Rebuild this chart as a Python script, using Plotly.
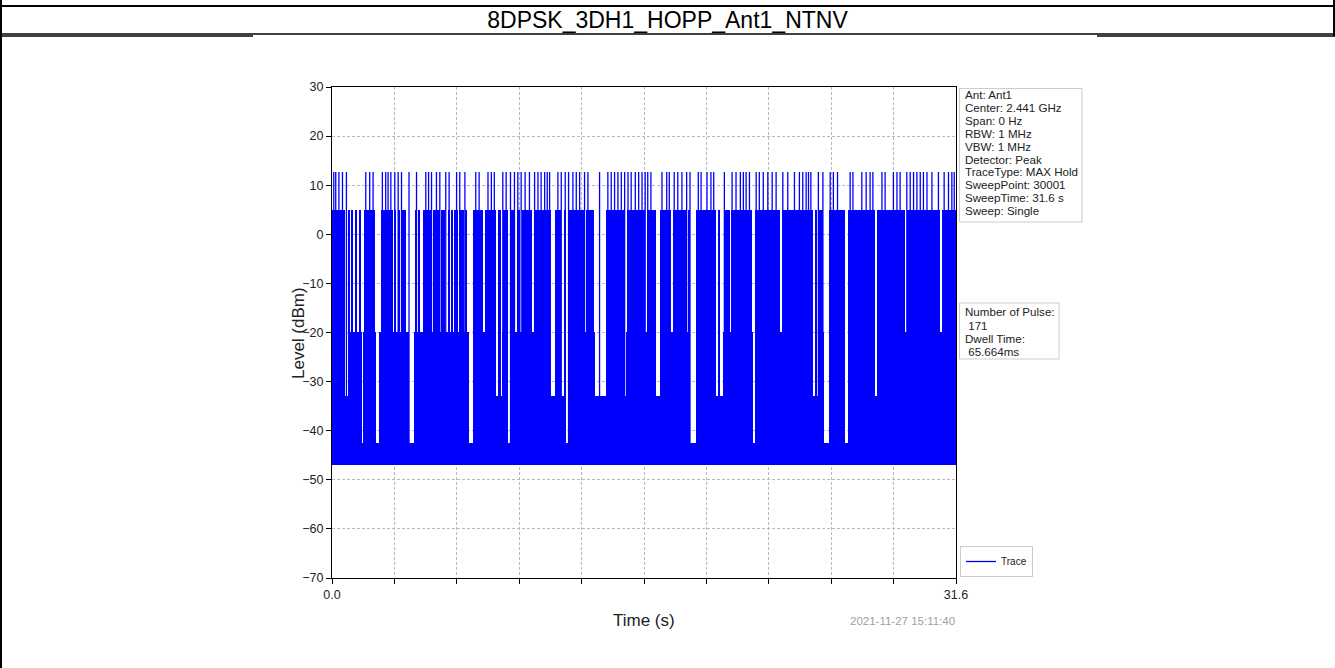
import plotly.graph_objects as go

# ---------------- data ----------------
title_text = "8DPSK_3DH1_HOPP_Ant1_NTNV"
x_range = [0.0, 31.6]
y_range = [-70, 30]
x_tick_vals = [0.0, 3.16, 6.32, 9.48, 12.64, 15.8, 18.96, 22.12, 25.28, 28.44, 31.6]
x_tick_labels = ["0.0", "", "", "", "", "", "", "", "", "", "31.6"]
y_tick_vals = [-70, -60, -50, -40, -30, -20, -10, 0, 10, 20, 30]

noise_floor = -47.0
noise_top = -42.5
low_level = -33.0
mid_level = -19.8
high_level = 5.0
peak_level = 12.7

# times (s) of the pulses reaching the 12.7 dBm peak
peak_times = [0.09, 0.19, 0.35, 0.53, 0.73, 1.71, 1.91, 2.08, 2.55, 2.72, 2.84, 2.98,
              3.18, 3.35, 3.52, 3.90, 4.28, 4.75, 4.89, 5.04, 5.29, 5.46, 5.76, 5.93,
              6.31, 6.47, 6.73, 7.28, 7.45, 7.90, 8.07, 8.22, 8.65, 8.82, 9.04, 9.24,
              9.41, 9.58, 9.78, 10.00, 10.26, 10.43, 10.59, 10.77, 10.90, 11.02, 11.44,
              11.61, 11.81, 11.98, 12.20, 12.37, 12.54, 12.79, 12.96, 13.55, 13.97,
              14.14, 14.31, 14.48, 14.65, 14.82, 14.99, 15.15, 15.36, 15.53, 15.70,
              15.86, 15.99, 16.15, 16.71, 16.95, 17.08, 17.33, 17.51, 17.72, 17.96,
              18.13, 18.55, 18.69, 18.99, 19.19, 19.33, 19.87, 20.26, 20.46, 20.68,
              20.83, 20.97, 21.14, 21.48, 21.64, 21.84, 22.07, 22.29, 22.49, 22.83,
              23.08, 23.42, 23.67, 23.84, 24.01, 24.13, 24.25, 24.63, 24.86, 25.23,
              25.39, 25.60, 26.24, 26.38, 26.83, 27.05, 27.25, 27.39, 27.85, 28.01,
              28.43, 28.61, 28.77, 29.11, 29.28, 29.45, 29.62, 29.79, 29.95, 30.13,
              30.38, 30.71, 31.00, 31.22, 31.39, 31.51]

# spans (s) where the trace is densely at the ~5 dBm level
high_start = [0.02, 0.85, 1.00, 1.20, 1.40, 1.62, 2.47, 3.18, 3.35, 3.48, 4.19, 4.38,
              4.61, 5.12, 5.32, 5.54, 5.88, 6.03, 6.17, 6.47, 6.61, 6.78, 7.15, 7.74,
              8.45, 8.65, 9.00, 9.36, 9.61, 10.22, 11.29, 11.79, 12.00, 12.86, 13.87,
              14.92, 15.95, 16.61, 17.27, 18.03, 18.43, 19.55, 19.85, 20.21, 21.44,
              22.79, 24.50, 24.62, 25.17, 26.13, 27.60, 29.13, 30.90]
high_end = [0.64, 0.89, 1.04, 1.24, 1.49, 2.16, 3.09, 3.26, 3.43, 3.77, 4.31, 4.48,
            5.04, 5.26, 5.46, 5.71, 5.93, 6.10, 6.39, 6.56, 6.68, 6.84, 7.65, 8.31,
            8.54, 8.90, 9.26, 9.51, 10.12, 11.08, 11.60, 11.84, 12.81, 13.27, 14.78,
            15.85, 16.41, 17.17, 17.93, 18.13, 19.45, 19.63, 20.16, 21.27, 22.69,
            24.36, 24.55, 24.87, 25.98, 27.50, 29.03, 30.80, 31.60]

# gaps (s) where the trace falls below the -20 dBm shelf
gap_start = [0.64, 1.50, 2.21, 3.90, 6.94, 8.31, 8.55, 8.91, 11.10, 11.62, 11.86, 13.30,
             14.80, 16.42, 18.15, 19.46, 19.65, 21.30, 24.37, 24.90, 25.99, 27.51]
gap_end = [0.81, 1.58, 2.40, 4.14, 7.13, 8.43, 8.63, 8.99, 11.27, 11.76, 11.99, 13.86,
           14.91, 16.60, 18.42, 19.53, 19.82, 21.43, 24.60, 25.15, 26.12, 27.59]
gap_to_floor = [False, True, True, True, True, False, False, True, False, False, True, False,
                False, False, True, False, False, True, False, True, True, False]

info_lines = ["Ant: Ant1", "Center: 2.441 GHz", "Span: 0 Hz", "RBW: 1 MHz", "VBW: 1 MHz",
              "Detector: Peak", "TraceType: MAX Hold", "SweepPoint: 30001",
              "SweepTime: 31.6 s", "Sweep: Single"]
result_lines = ["Number of Pulse:", "\u00a0171", "Dwell Time:", "\u00a065.664ms"]
timestamp = "2021-11-27 15:11:40"
x_title = "Time (s)"
y_title = "Level (dBm)"
legend_name = "Trace"

# ---------------- helpers ----------------
W, H = 1335, 668
ML, MR, MT, MB = 332, 379, 87, 90
PW, PH = W - ML - MR, H - MT - MB
FONT = "Liberation Sans, Arial, Helvetica, sans-serif"
BLUE = "#0000ff"


def px(xp):
    return (xp - ML) / PW


def py(yp):
    return (H - MB - yp) / PH


def complement(starts, ends, lo, hi):
    out = []
    cur = lo
    for s, e in sorted(zip(starts, ends)):
        if s > cur:
            out.append((cur, s))
        cur = max(cur, e)
    if cur < hi:
        out.append((cur, hi))
    return out


def block_bar(intervals, level):
    return go.Bar(
        x=[(s + e) / 2 for s, e in intervals],
        width=[e - s for s, e in intervals],
        y=[level - noise_floor] * len(intervals),
        base=[noise_floor] * len(intervals),
        marker=dict(color=BLUE, line=dict(width=0)),
        showlegend=False, hoverinfo="skip",
    )


mid_intervals = complement(gap_start, gap_end, x_range[0], x_range[1])
floor_gap_s = [s for s, f in zip(gap_start, gap_to_floor) if f]
floor_gap_e = [e for e, f in zip(gap_end, gap_to_floor) if f]
low_intervals = complement(floor_gap_s, floor_gap_e, x_range[0], x_range[1])
high_intervals = list(zip(high_start, high_end))

fig = go.Figure()
fig.add_trace(block_bar([(x_range[0], x_range[1])], noise_top))
fig.add_trace(block_bar(low_intervals, low_level))
fig.add_trace(block_bar(mid_intervals, mid_level))
fig.add_trace(block_bar(high_intervals, high_level))

sx, sy = [], []
for t in peak_times:
    sx += [t, t, None]
    sy += [noise_floor, peak_level, None]
fig.add_trace(go.Scatter(x=sx, y=sy, mode="lines", name=legend_name,
                         line=dict(color=BLUE, width=1.3), hoverinfo="skip"))

axis_common = dict(showline=True, linecolor="black", linewidth=1, mirror=True,
                   ticks="outside", ticklen=5, tickwidth=1, tickcolor="black",
                   showgrid=True, gridcolor="#b8b8b8", gridwidth=0.8, griddash="3px,2px",
                   zeroline=False, tickfont=dict(family=FONT, size=12.5, color="#222"))

fig.update_layout(
    width=W, height=H,
    margin=dict(l=ML, r=MR, t=MT, b=MB, pad=0),
    paper_bgcolor="white", plot_bgcolor="white",
    barmode="overlay", bargap=0,
    font=dict(family=FONT, color="#222"),
    xaxis=dict(range=x_range, tickvals=x_tick_vals, ticktext=x_tick_labels, **axis_common),
    yaxis=dict(range=y_range, tickvals=y_tick_vals, **axis_common),
    showlegend=True,
    legend=dict(x=px(960), y=py(577), xanchor="left", yanchor="bottom",
                bgcolor="white", bordercolor="#cccccc", borderwidth=1,
                font=dict(family=FONT, size=10, color="#222"), itemwidth=30),
    title=dict(text=title_text, x=0.5, xref="container", xanchor="center",
               y=1 - 20 / H, yref="container", yanchor="middle",
               font=dict(family=FONT, size=23, color="black")),
)

shapes = [
    dict(type="line", xref="paper", yref="paper", x0=px(0), x1=px(W), y0=py(6), y1=py(6),
         line=dict(color="black", width=2)),
    dict(type="line", xref="paper", yref="paper", x0=px(0), x1=px(W), y0=py(34), y1=py(34),
         line=dict(color="black", width=1.5)),
    dict(type="line", xref="paper", yref="paper", x0=px(0), x1=px(253), y0=py(36), y1=py(36),
         line=dict(color="black", width=1.5)),
    dict(type="line", xref="paper", yref="paper", x0=px(1097), x1=px(W), y0=py(36), y1=py(36),
         line=dict(color="black", width=1.5)),
    dict(type="line", xref="paper", yref="paper", x0=px(1), x1=px(1), y0=py(0), y1=py(H),
         line=dict(color="black", width=2)),
    dict(type="line", xref="paper", yref="paper", x0=px(1334), x1=px(1334), y0=py(0), y1=py(36),
         line=dict(color="black", width=2)),
    dict(type="rect", xref="paper", yref="paper", x0=px(959.5), x1=px(1082), y0=py(88.5), y1=py(222),
         line=dict(color="#cccccc", width=1), fillcolor="white", layer="above"),
    dict(type="rect", xref="paper", yref="paper", x0=px(959.5), x1=px(1059), y0=py(303), y1=py(359),
         line=dict(color="#cccccc", width=1), fillcolor="white", layer="above"),
]

annotations = []
for i, s in enumerate(info_lines):
    annotations.append(dict(text=s, xref="paper", yref="paper", x=px(962.5), y=py(94.5 + 12.9 * i),
                            xanchor="left", yanchor="middle", showarrow=False,
                            font=dict(family=FONT, size=11.6, color="#222")))
for i, s in enumerate(result_lines):
    annotations.append(dict(text=s, xref="paper", yref="paper", x=px(962.5), y=py(311.7 + 13.3 * i),
                            xanchor="left", yanchor="middle", showarrow=False,
                            font=dict(family=FONT, size=11.6, color="#222")))
annotations.append(dict(text=timestamp, xref="paper", yref="paper", x=px(957), y=py(621),
                        xanchor="right", yanchor="middle", showarrow=False,
                        font=dict(family=FONT, size=11.5, color="#a0a0a0")))
annotations.append(dict(text=x_title, xref="paper", yref="paper", x=px(644), y=py(620),
                        xanchor="center", yanchor="middle", showarrow=False,
                        font=dict(family=FONT, size=17, color="#222")))
annotations.append(dict(text=y_title, xref="paper", yref="paper", x=px(298), y=py(333),
                        xanchor="center", yanchor="middle", showarrow=False, textangle=-90,
                        font=dict(family=FONT, size=17, color="#222")))

fig.update_layout(shapes=shapes, annotations=annotations)

fig.write_html("out.html", config={"displayModeBar": False},
               post_script="document.body.style.margin='0';")
